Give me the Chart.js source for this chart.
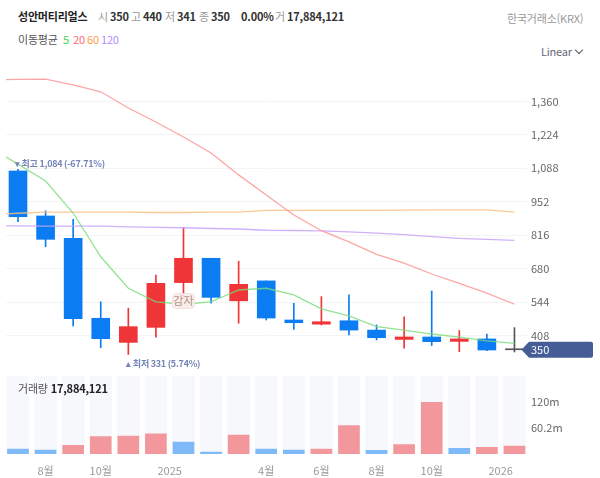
<!DOCTYPE html>
<html lang="ko">
<head>
<meta charset="utf-8">
<title>성안머티리얼스</title>
<script src="https://cdn.jsdelivr.net/npm/chart.js@4/dist/chart.umd.min.js"></script>
<style>
  html, body { margin: 0; padding: 0; background: #fff; }
  body { width: 600px; height: 478px; position: relative; overflow: hidden;
         font-family: "Noto Sans CJK KR", "Noto Sans", sans-serif; font-size: 11px; color: #222; }
  canvas { position: absolute; left: 0; }
  #mainChart { top: 70px; }
  #volChart { top: 370px; }
  .t { position: absolute; white-space: nowrap; line-height: 14px; z-index: 2; letter-spacing: -0.2px; }
  .g { color: #999; }
  .b { font-weight: 700; color: #333; }
  #chev { position: absolute; left: 576px; top: 47px; width: 5px; height: 5px;
          border-right: 1px solid #555; border-bottom: 1px solid #555; transform: rotate(45deg); }
</style>
</head>
<body>
<span class="t b" style="left:18px;top:9px;color:#222">성안머티리얼스</span>
<span class="t g" style="left:98px;top:9px">시</span><span class="t b" style="left:110px;top:9px">350</span>
<span class="t g" style="left:131px;top:9px">고</span><span class="t b" style="left:143px;top:9px">440</span>
<span class="t g" style="left:165px;top:9px">저</span><span class="t b" style="left:177px;top:9px">341</span>
<span class="t g" style="left:199px;top:9px">종</span><span class="t b" style="left:211px;top:9px">350</span>
<span class="t b" style="left:241px;top:9px">0.00%</span>
<span class="t g" style="left:275px;top:9px">거</span><span class="t b" style="left:287px;top:9px">17,884,121</span>
<span class="t g" style="left:507px;top:11px">한국거래소(KRX)</span>
<span class="t" style="left:18px;top:32px;color:#555">이동평균</span>
<span class="t" style="left:63px;top:32px;color:#4cd04c">5</span>
<span class="t" style="left:73px;top:32px;color:#ff6673">20</span>
<span class="t" style="left:87px;top:32px;color:#ff9d4d">60</span>
<span class="t" style="left:101px;top:32px;color:#b38cff">120</span>
<span class="t" style="left:541px;top:44px;color:#667">Linear</span>
<div id="chev"></div>
<span class="t" style="left:18px;top:381px;color:#555">거래량 <b style="color:#222">17,884,121</b></span>
<canvas id="mainChart" width="600" height="300"></canvas>
<canvas id="volChart" width="600" height="108"></canvas>
<script>
// monthly candles, Jul 2024 .. Jan 2026
const opens  = [1077, 894, 803, 478, 380, 441, 623, 722, 549, 630, 471, 454, 468, 430, 392, 402, 384, 394, 350];
const closes = [891, 799, 476, 395, 444, 620, 722, 563, 616, 479, 460, 464, 430, 399, 402, 383, 394, 349, 350];
const highs  = [1084, 915, 880, 545, 519, 654, 846, 722, 710, 630, 539, 566, 573, 451, 484, 589, 428, 414, 440];
const lows   = [871, 769, 447, 358, 331, 401, 560, 539, 458, 471, 433, 451, 410, 390, 356, 367, 342, 346, 341];

// moving averages, first value is the month before the visible window
const ma5   = [1170, 1105, 1036, 906, 728, 600, 545, 535, 545, 593, 600, 573, 516, 488, 444, 430, 414, 401, 386, 376];
const ma20  = [1447, 1449, 1450, 1427, 1399, 1333, 1276, 1215, 1150, 1061, 979, 898, 834, 789, 738, 702, 658, 620, 580, 535];
const ma60  = [900, 905, 910, 910, 910, 910, 908, 908, 910, 910, 917, 917, 917, 917, 917, 918, 919, 919, 919, 910];
const ma120 = [854, 854, 853, 853, 853, 850, 848, 846, 843, 841, 836, 835, 833, 829, 824, 818, 810, 803, 799, 795];

const volumes = [11.5, 9.2, 20, 39.7, 41, 46, 27.5, 4.6, 43.5, 11.5, 9.2, 11.5, 65, 8.5, 21.4, 118.4, 13, 15.3, 17.9];
const volUp   = [0, 0, 1, 1, 1, 1, 0, 0, 1, 0, 0, 1, 1, 0, 1, 1, 0, 1, 1];

const priceTicks = [408, 544, 680, 816, 952, 1088, 1224, 1360];
const volTicks = [60.2, 120];
const monthTicks = [1, 3, 5.5, 9, 11, 13, 15, 17.5];
const monthLabels = ['8월', '10월', '2025', '4월', '6월', '8월', '10월', '2026'];
const lastPrice = 350;

const RED = '#f03538', BLUE = '#0b7cf2', DOJI = '#555555';
const FONT = '"Noto Sans CJK KR", "Noto Sans", sans-serif';
const X_MIN = -0.435, X_MAX = 18.455;
const Y_MIN = 267.7, Y_MAX = 1487.5, VOL_MAX = 179.3;

const idx = opens.map((_, i) => i);

function candleColor(i) {
  if (opens[i] === closes[i]) return DOJI;
  return closes[i] > opens[i] ? RED : BLUE;
}

function maDataset(values, color) {
  return {
    type: 'line',
    data: values.map((v, i) => ({ x: i - 1, y: v })),
    borderColor: color,
    borderWidth: 1.3,
    pointRadius: 0,
    tension: 0,
    order: 1
  };
}

// chart area has to stay at a fixed spot, labels may hang over its edges
function noPadding(scale) {
  scale.paddingTop = scale.paddingBottom = scale.paddingLeft = scale.paddingRight = 0;
}

// value labels and the price tag, placed through the chart's own scales
const labelPlugin = {
  id: 'labelPlugin',
  afterDatasetsDraw(chart) {
    const { ctx, scales: { x, y } } = chart;
    ctx.save();
    ctx.textBaseline = 'middle';
    ctx.textAlign = 'left';

    ctx.font = '600 9px ' + FONT;
    ctx.letterSpacing = '-0.25px';
    ctx.fillStyle = '#7484b8';
    ctx.fillText('▾ 최고 1,084 (-67.71%)', x.getPixelForValue(0) - 3, y.getPixelForValue(1084) - 6);
    ctx.fillText('▴ 최저 331 (5.74%)', x.getPixelForValue(4) - 2, y.getPixelForValue(331) + 9);
    ctx.letterSpacing = '0px';

    // 감자 event badge
    const bx = x.getPixelForValue(6), by = y.getPixelForValue(548);
    ctx.beginPath();
    ctx.roundRect(bx - 11, by - 7.5, 22, 15, 4);
    ctx.fillStyle = 'rgba(250,236,234,0.9)';
    ctx.fill();
    ctx.strokeStyle = '#f6dfdc';
    ctx.stroke();
    ctx.font = '11px ' + FONT;
    ctx.fillStyle = '#b58d88';
    ctx.textAlign = 'center';
    ctx.fillText('감자', bx, by);

    // last price tag
    const ty = y.getPixelForValue(lastPrice);
    ctx.beginPath();
    ctx.moveTo(521.5, ty);
    ctx.lineTo(529, ty - 8);
    ctx.lineTo(591, ty - 8);
    ctx.quadraticCurveTo(593, ty - 8, 593, ty - 6);
    ctx.lineTo(593, ty + 6);
    ctx.quadraticCurveTo(593, ty + 8, 591, ty + 8);
    ctx.lineTo(529, ty + 8);
    ctx.closePath();
    ctx.fillStyle = '#465c97';
    ctx.fill();
    ctx.fillStyle = '#fff';
    ctx.textAlign = 'left';
    ctx.font = '11px ' + FONT;
    ctx.fillText(String(lastPrice), 531, ty);
    ctx.restore();
  }
};

new Chart(document.getElementById('mainChart'), {
  data: {
    datasets: [
      maDataset(ma5, 'rgba(120,220,120,0.8)'),
      maDataset(ma20, 'rgba(252,150,150,0.85)'),
      maDataset(ma60, 'rgba(251,190,130,0.85)'),
      maDataset(ma120, 'rgba(200,165,250,0.85)'),
      {
        type: 'bar',
        data: idx.map(i => ({ x: i, y: [opens[i], closes[i]] })),
        backgroundColor: idx.map(candleColor),
        barThickness: 18,
        minBarLength: 1,
        grouped: false,
        order: 2
      },
      {
        type: 'bar',
        data: idx.map(i => ({ x: i, y: [lows[i], highs[i]] })),
        backgroundColor: idx.map(candleColor),
        barThickness: 1,
        grouped: false,
        order: 3
      }
    ]
  },
  options: {
    responsive: false,
    animation: false,
    layout: { padding: { left: 6, right: 0, top: 0, bottom: 0 } },
    plugins: { legend: { display: false }, tooltip: { enabled: false } },
    scales: {
      x: { type: 'linear', display: false, min: X_MIN, max: X_MAX, offset: false, grid: { display: false } },
      y: {
        position: 'right',
        min: Y_MIN,
        max: Y_MAX,
        afterFit(scale) { scale.width = 73; noPadding(scale); },
        afterBuildTicks(scale) { scale.ticks = priceTicks.map(v => ({ value: v })); },
        border: { display: false },
        grid: { color: '#f4f4f5', drawTicks: false },
        ticks: {
          padding: 4,
          color: '#666',
          font: { family: FONT, size: 11 },
          callback: v => v.toLocaleString('en-US')
        }
      }
    }
  },
  plugins: [labelPlugin]
});

new Chart(document.getElementById('volChart'), {
  data: {
    datasets: [
      {
        type: 'bar',
        data: idx.map(i => ({ x: i, y: volumes[i] })),
        backgroundColor: idx.map(i => volUp[i] ? '#f2979c' : '#7fbaf8'),
        barThickness: 21,
        grouped: false,
        order: 1
      },
      {
        type: 'bar',
        data: idx.map(i => ({ x: i, y: VOL_MAX })),
        backgroundColor: '#f7f8fc',
        barThickness: 22,
        grouped: false,
        order: 2
      }
    ]
  },
  options: {
    responsive: false,
    animation: false,
    layout: { padding: { left: 6, right: 0, top: 5.7, bottom: 0 } },
    plugins: { legend: { display: false }, tooltip: { enabled: false } },
    scales: {
      x: {
        type: 'linear',
        offset: false,
        min: X_MIN,
        max: X_MAX,
        afterFit(scale) { scale.height = 24; noPadding(scale); },
        afterBuildTicks(scale) { scale.ticks = monthTicks.map(v => ({ value: v })); },
        border: { display: false },
        grid: { display: false },
        ticks: {
          padding: 2,
          color: '#999',
          maxRotation: 0,
          autoSkip: false,
          font: { family: FONT, size: 11 },
          callback: v => monthLabels[monthTicks.indexOf(v)]
        }
      },
      y: {
        position: 'right',
        min: 0,
        max: VOL_MAX,
        afterFit(scale) { scale.width = 73; noPadding(scale); },
        afterBuildTicks(scale) { scale.ticks = volTicks.map(v => ({ value: v })); },
        border: { display: false },
        grid: { display: false, drawTicks: false },
        ticks: {
          padding: 4,
          color: '#666',
          font: { family: FONT, size: 11 },
          callback: v => v + 'm'
        }
      }
    }
  }
});
</script>
</body>
</html>
